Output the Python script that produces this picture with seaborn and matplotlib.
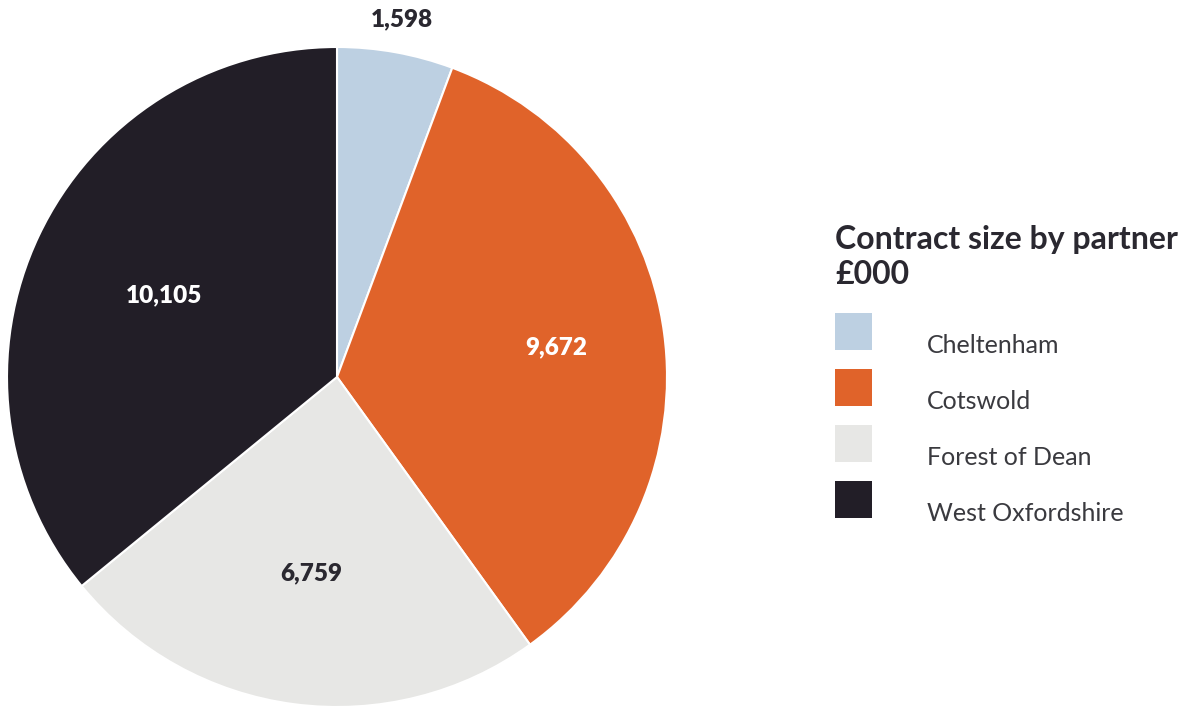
import numpy as np
import matplotlib
matplotlib.use("Agg")
import matplotlib.pyplot as plt
from matplotlib.patches import Patch, Rectangle
from matplotlib.legend_handler import HandlerPatch
import seaborn as sns

partners = ["Cheltenham", "Cotswold", "Forest of Dean", "West Oxfordshire"]
contract_k = [1598, 9672, 6759, 10105]
value_labels = ["1,598", "9,672", "6,759", "10,105"]
colours = ["#bdd0e2", "#e0632a", "#e7e7e5", "#221e27"]
label_colours = ["#2a2830", "#ffffff", "#2a2830", "#ffffff"]
label_radius = [1.1, 0.67, 0.6, 0.58]

sns.set_theme(style="white")
plt.rcParams["font.family"] = ["Lato", "DejaVu Sans"]

fig = plt.figure(figsize=(11.84, 7.06), dpi=100)
ax = fig.add_axes([7 / 1184, -1 / 706, 660 / 1184, 660 / 706])
pal = sns.color_palette(colours)

wedges, _ = ax.pie(contract_k, colors=pal, startangle=90, counterclock=False,
                   wedgeprops=dict(edgecolor="white", linewidth=1.5))
ax.set_xlim(-1, 1)
ax.set_ylim(-1, 1)
ax.set_aspect("equal")
ax.axis("off")

for w, txt, c, r in zip(wedges, value_labels, label_colours, label_radius):
    mid = np.deg2rad((w.theta1 + w.theta2) / 2)
    ax.text(r * np.cos(mid), r * np.sin(mid), txt, ha="center", va="center",
            color=c, fontsize=17.5, fontweight="heavy", clip_on=False)


def raised_square(legend, orig_handle, xdescent, ydescent, width, height, fontsize):
    # square box sitting a bit above the text baseline, like the original
    return Rectangle((-xdescent, 2), width, width)


fig.text(835 / 1184, 1 - 225 / 706, "Contract size by partner\n£000", ha="left", va="top",
         fontsize=23, fontweight="bold", color="#2a2830", linespacing=1.25)

handles = [Patch(facecolor=c, edgecolor="none") for c in colours]
leg = fig.legend(handles, partners, loc="upper left", bbox_to_anchor=(835 / 1184, 1 - 331 / 706),
                 frameon=False, fontsize=18, handlelength=1.48, handleheight=1.285,
                 handletextpad=2.2, labelspacing=1.16, borderpad=0, borderaxespad=0,
                 handler_map={Patch: HandlerPatch(patch_func=raised_square)})
for t in leg.get_texts():
    t.set_color("#3a3a3f")

fig.savefig("out.png", dpi=100)
